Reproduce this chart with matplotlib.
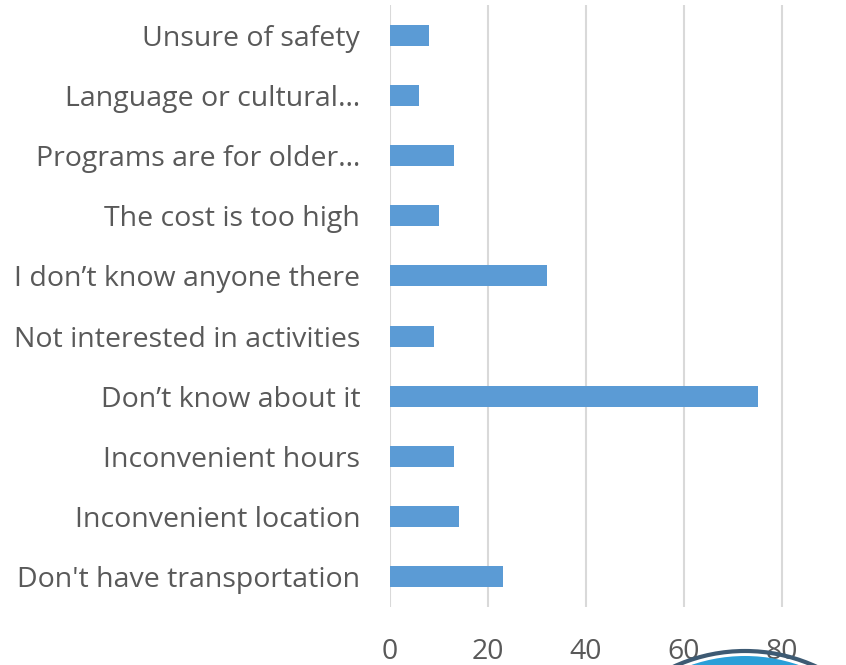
import matplotlib.pyplot as plt
from matplotlib.patches import Circle

# survey answers, bottom to top
reasons = ["Don't have transportation", "Inconvenient location",
           "Inconvenient hours", "Don\u2019t know about it",
           "Not interested in activities", "I don\u2019t know anyone there",
           "The cost is too high", "Programs are for older\u2026",
           "Language or cultural\u2026", "Unsure of safety"]
counts = [23, 14, 13, 75, 9, 32, 10, 13, 6, 8]
xticks = [0, 20, 40, 60, 80]

txt = '#595959'
plt.rcParams['font.family'] = ['Open Sans', 'DejaVu Sans']

fig = plt.figure(figsize=(8.46, 6.65), dpi=100)
ax = fig.add_axes([390/846, 58/665, 411.6/846, 602/665])

ax.barh(range(len(reasons)), counts, height=0.35, color='#5b9bd5', zorder=3)
ax.set_ylim(-0.5, len(reasons) - 0.5)
ax.set_xlim(0, 84)
ax.set_xticks(xticks)
ax.set_yticks(range(len(reasons)))
ax.set_yticklabels(reasons)
ax.xaxis.grid(True, color='#d9d9d9', linewidth=1.5, zorder=0)
for s in ax.spines.values():
    s.set_visible(False)
ax.tick_params(axis='both', length=0, labelsize=20.5, labelcolor=txt)
ax.tick_params(axis='x', pad=22)
ax.tick_params(axis='y', pad=21.5)

# the logo that peeks in at the bottom
logo = Circle((745, -156), 165, transform=None, facecolor='#2a9fd8',
              edgecolor='none', zorder=5)
ring = Circle((745, -156), 170, transform=None, facecolor='none',
              edgecolor='#3d5a73', linewidth=3, zorder=5)
fig.add_artist(ring)
fig.add_artist(logo)

fig.savefig('out.png', dpi=100)
